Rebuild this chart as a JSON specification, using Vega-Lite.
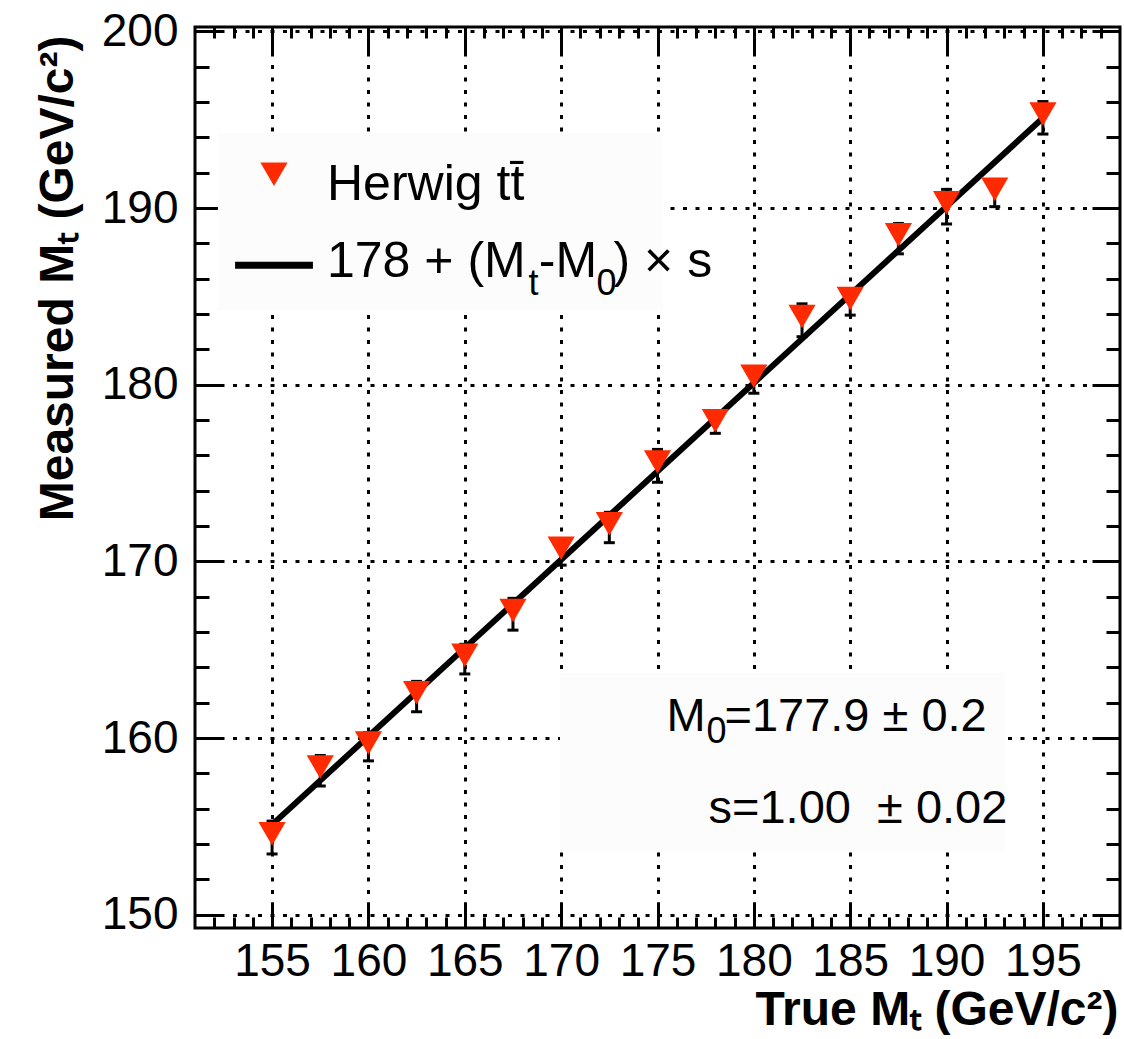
{
  "$schema": "https://vega.github.io/schema/vega-lite/v6.json",
  "width": 925,
  "height": 901,
  "autosize": {"type": "none"},
  "padding": {"left": 195, "top": 27, "right": 4, "bottom": 111},
  "background": "white",
  "config": {
    "view": {"stroke": "black", "strokeWidth": 3},
    "axis": {
      "labelFont": "Liberation Sans",
      "titleFont": "Liberation Sans",
      "labelColor": "black",
      "titleColor": "black",
      "tickColor": "black",
      "tickWidth": 3,
      "tickCap": "butt",
      "domain": false,
      "labelFlush": false,
      "labelOverlap": false,
      "gridColor": "black",
      "gridOpacity": 1,
      "gridWidth": 3,
      "gridDash": [4, 8.5]
    }
  },
  "datasets": {
    "herwig": [
      {"mt": 155, "meas": 154.37, "err": 0.93},
      {"mt": 157.5, "meas": 158.15, "err": 0.86},
      {"mt": 160, "meas": 159.51, "err": 0.8},
      {"mt": 162.5, "meas": 162.35, "err": 0.86},
      {"mt": 165, "meas": 164.47, "err": 0.84},
      {"mt": 167.5, "meas": 167.01, "err": 0.9},
      {"mt": 170, "meas": 170.53, "err": 0.74},
      {"mt": 172.5, "meas": 171.92, "err": 0.86},
      {"mt": 175, "meas": 175.41, "err": 0.93},
      {"mt": 178, "meas": 177.75, "err": 0.5},
      {"mt": 180, "meas": 180.27, "err": 0.75},
      {"mt": 182.5, "meas": 183.65, "err": 0.93},
      {"mt": 185, "meas": 184.67, "err": 0.73},
      {"mt": 187.5, "meas": 188.27, "err": 0.86},
      {"mt": 190, "meas": 190.08, "err": 0.98},
      {"mt": 192.5, "meas": 190.85, "err": 0.77},
      {"mt": 195, "meas": 195.11, "err": 0.92}
    ],
    "fit": [
      {"mt": 155, "fit": 155.1},
      {"mt": 195, "fit": 195.1}
    ],
    "boxes": [
      {"x1": 152.19, "x2": 175.29, "y1": 184.23, "y2": 194.25},
      {"x1": 169.94, "x2": 193.03, "y1": 153.55, "y2": 163.68}
    ],
    "legendMarker": [{"x": 155.1, "y": 191.7}],
    "legendLine": [
      {"x": 153.08, "y": 186.76},
      {"x": 157.12, "y": 186.76}
    ],
    "legendText": [
      {"x": 157.85, "y": 190.46, "t": "Herwig tt̄"},
      {"x": 157.85, "y": 186.12, "t": "178 + (M"},
      {"x": 168.84, "y": 186.12, "t": "-M"},
      {"x": 172.72, "y": 186.12, "t": ") × s"}
    ],
    "legendSub": [
      {"x": 168.3, "y": 185.1, "t": "t"},
      {"x": 171.84, "y": 185.1, "t": "0"}
    ],
    "statText": [
      {"x": 175.468, "y": 160.4, "t": "M"},
      {"x": 178.474, "y": 160.4, "t": "=177.9 ± 0.2"},
      {"x": 177.648, "y": 155.19, "t": "s=1.00\u00a0 ± 0.02"}
    ],
    "statSub": [
      {"x": 177.544, "y": 159.72, "t": "0"}
    ]
  },
  "layer": [
    {
      "data": {"name": "boxes"},
      "mark": {"type": "rect", "fill": "#fcfcfc"},
      "encoding": {
        "x": {
          "field": "x1", "type": "quantitative",
          "scale": {"domain": [151, 199], "nice": false, "zero": false},
          "axis": {
            "orient": "bottom",
            "values": [155, 160, 165, 170, 175, 180, 185, 190, 195],
            "grid": true, "ticks": false, "tickSize": 0,
            "labelFontSize": 46, "labelPadding": 47, "labelBaseline": "alphabetic",
            "title": "True Mₜ (GeV/c²)",
            "titleFontSize": 48, "titleFontWeight": "bold",
            "titleAngle": 0, "titleAlign": "right", "titleBaseline": "alphabetic",
            "titleX": 923, "titleY": 96
          }
        },
        "x2": {"field": "x2"},
        "y": {
          "field": "y1", "type": "quantitative",
          "scale": {"domain": [149.25, 200.25], "nice": false, "zero": false},
          "axis": {
            "orient": "left",
            "values": [150, 160, 170, 180, 190, 200],
            "grid": true, "ticks": false, "tickSize": 0,
            "labelFontSize": 46, "labelPadding": 17, "labelAlign": "right", "labelBaseline": "middle",
            "title": "Measured Mₜ (GeV/c²)",
            "titleFontSize": 48, "titleFontWeight": "bold",
            "titleAngle": 270, "titleAlign": "right", "titleBaseline": "alphabetic",
            "titleX": -123, "titleY": 8
          }
        },
        "y2": {"field": "y2"}
      }
    },
    {
      "data": {"name": "fit"},
      "mark": {"type": "line", "color": "black", "strokeWidth": 6},
      "encoding": {
        "x": {
          "field": "mt", "type": "quantitative",
          "scale": {"domain": [151, 199], "nice": false, "zero": false},
          "axis": {
            "orient": "bottom",
            "values": [155, 160, 165, 170, 175, 180, 185, 190, 195],
            "grid": false, "labels": false, "tickSize": -26, "title": null
          }
        },
        "y": {
          "field": "fit", "type": "quantitative",
          "scale": {"domain": [149.25, 200.25], "nice": false, "zero": false},
          "axis": {
            "orient": "left",
            "values": [150, 160, 170, 180, 190, 200],
            "grid": false, "labels": false, "tickSize": -28, "title": null
          }
        }
      }
    },
    {
      "data": {"name": "herwig"},
      "mark": {
        "type": "errorbar",
        "color": "black",
        "opacity": 1,
        "ticks": {"size": 11, "thickness": 3, "color": "black", "opacity": 1},
        "rule": {"strokeWidth": 3, "color": "black", "opacity": 1}
      },
      "encoding": {
        "x": {
          "field": "mt", "type": "quantitative",
          "scale": {"domain": [151, 199], "nice": false, "zero": false},
          "axis": null
        },
        "y": {
          "field": "meas", "type": "quantitative",
          "scale": {"domain": [149.25, 200.25], "nice": false, "zero": false},
          "axis": null
        },
        "yError": {"field": "err"}
      }
    },
    {
      "data": {"name": "herwig"},
      "mark": {
        "type": "point", "shape": "triangle-down", "filled": true,
        "size": 740, "color": "#ff2a00", "opacity": 1, "strokeWidth": 0, "yOffset": -3.8
      },
      "encoding": {
        "x": {
          "field": "mt", "type": "quantitative",
          "scale": {"domain": [151, 199], "nice": false, "zero": false},
          "axis": {
            "orient": "bottom",
            "values": [152, 153, 154, 155, 156, 157, 158, 159, 160, 161, 162, 163, 164, 165, 166, 167, 168, 169, 170, 171, 172, 173, 174, 175, 176, 177, 178, 179, 180, 181, 182, 183, 184, 185, 186, 187, 188, 189, 190, 191, 192, 193, 194, 195, 196, 197, 198],
            "grid": false, "labels": false, "tickSize": -11, "title": null
          }
        },
        "y": {
          "field": "meas", "type": "quantitative",
          "scale": {"domain": [149.25, 200.25], "nice": false, "zero": false},
          "axis": {
            "orient": "left",
            "values": [150, 152, 154, 156, 158, 160, 162, 164, 166, 168, 170, 172, 174, 176, 178, 180, 182, 184, 186, 188, 190, 192, 194, 196, 198, 200],
            "grid": false, "labels": false, "tickSize": -14, "title": null
          }
        }
      }
    },
    {
      "data": {"name": "legendMarker"},
      "mark": {
        "type": "point", "shape": "triangle-down", "filled": true,
        "size": 740, "color": "#ff2a00", "opacity": 1, "strokeWidth": 0, "yOffset": -3.8
      },
      "encoding": {
        "x": {
          "field": "x", "type": "quantitative",
          "scale": {"domain": [151, 199], "nice": false, "zero": false},
          "axis": {
            "orient": "top",
            "values": [155, 160, 165, 170, 175, 180, 185, 190, 195],
            "grid": false, "labels": false, "tickSize": -26, "title": null
          }
        },
        "y": {
          "field": "y", "type": "quantitative",
          "scale": {"domain": [149.25, 200.25], "nice": false, "zero": false},
          "axis": {
            "orient": "right",
            "values": [150, 160, 170, 180, 190, 200],
            "grid": false, "labels": false, "tickSize": -28, "title": null
          }
        }
      }
    },
    {
      "data": {"name": "legendLine"},
      "mark": {"type": "line", "color": "black", "strokeWidth": 7},
      "encoding": {
        "x": {
          "field": "x", "type": "quantitative",
          "scale": {"domain": [151, 199], "nice": false, "zero": false},
          "axis": {
            "orient": "top",
            "values": [152, 153, 154, 155, 156, 157, 158, 159, 160, 161, 162, 163, 164, 165, 166, 167, 168, 169, 170, 171, 172, 173, 174, 175, 176, 177, 178, 179, 180, 181, 182, 183, 184, 185, 186, 187, 188, 189, 190, 191, 192, 193, 194, 195, 196, 197, 198],
            "grid": false, "labels": false, "tickSize": -11, "title": null
          }
        },
        "y": {
          "field": "y", "type": "quantitative",
          "scale": {"domain": [149.25, 200.25], "nice": false, "zero": false},
          "axis": {
            "orient": "right",
            "values": [150, 152, 154, 156, 158, 160, 162, 164, 166, 168, 170, 172, 174, 176, 178, 180, 182, 184, 186, 188, 190, 192, 194, 196, 198, 200],
            "grid": false, "labels": false, "tickSize": -14, "title": null
          }
        }
      }
    },
    {
      "data": {"name": "legendText"},
      "mark": {"type": "text", "font": "Liberation Sans", "fontSize": 50, "align": "left", "baseline": "alphabetic", "color": "black"},
      "encoding": {
        "x": {"field": "x", "type": "quantitative", "scale": {"domain": [151, 199], "nice": false, "zero": false}, "axis": null},
        "y": {"field": "y", "type": "quantitative", "scale": {"domain": [149.25, 200.25], "nice": false, "zero": false}, "axis": null},
        "text": {"field": "t"}
      }
    },
    {
      "data": {"name": "legendSub"},
      "mark": {"type": "text", "font": "Liberation Sans", "fontSize": 36, "align": "left", "baseline": "alphabetic", "color": "black"},
      "encoding": {
        "x": {"field": "x", "type": "quantitative", "scale": {"domain": [151, 199], "nice": false, "zero": false}, "axis": null},
        "y": {"field": "y", "type": "quantitative", "scale": {"domain": [149.25, 200.25], "nice": false, "zero": false}, "axis": null},
        "text": {"field": "t"}
      }
    },
    {
      "data": {"name": "statText"},
      "mark": {"type": "text", "font": "Liberation Sans", "fontSize": 47, "align": "left", "baseline": "alphabetic", "color": "black"},
      "encoding": {
        "x": {"field": "x", "type": "quantitative", "scale": {"domain": [151, 199], "nice": false, "zero": false}, "axis": null},
        "y": {"field": "y", "type": "quantitative", "scale": {"domain": [149.25, 200.25], "nice": false, "zero": false}, "axis": null},
        "text": {"field": "t"}
      }
    },
    {
      "data": {"name": "statSub"},
      "mark": {"type": "text", "font": "Liberation Sans", "fontSize": 36, "align": "left", "baseline": "alphabetic", "color": "black"},
      "encoding": {
        "x": {"field": "x", "type": "quantitative", "scale": {"domain": [151, 199], "nice": false, "zero": false}, "axis": null},
        "y": {"field": "y", "type": "quantitative", "scale": {"domain": [149.25, 200.25], "nice": false, "zero": false}, "axis": null},
        "text": {"field": "t"}
      }
    }
  ],
  "resolve": {"axis": {"x": "independent", "y": "independent"}}
}
